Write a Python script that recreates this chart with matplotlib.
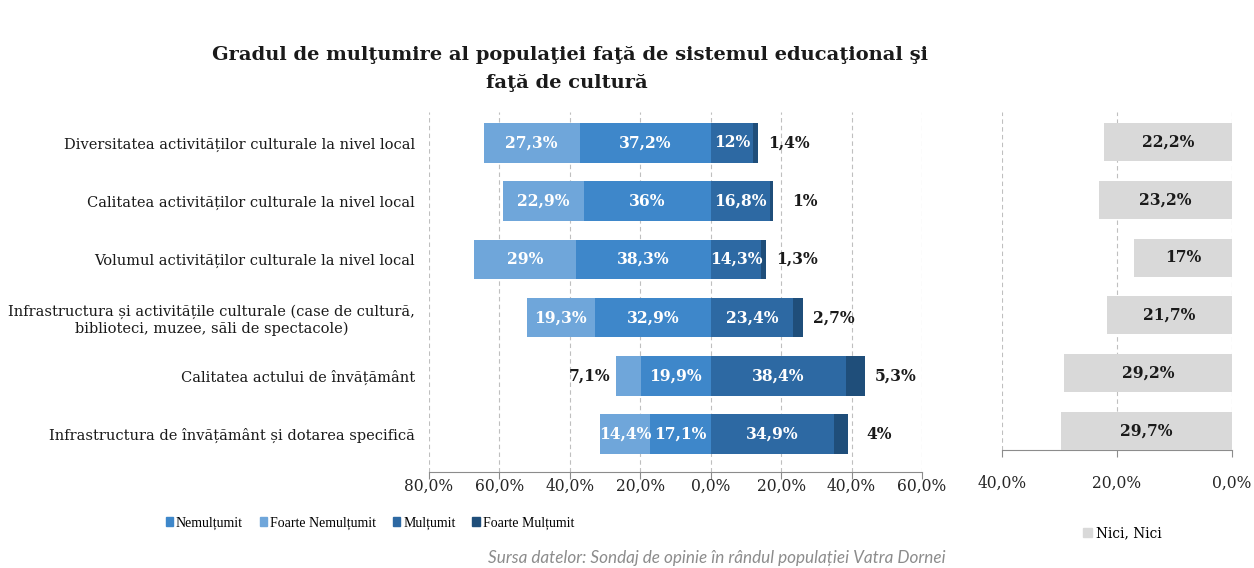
import matplotlib
matplotlib.use("Agg")
import matplotlib.pyplot as plt
from matplotlib.patches import Patch

categories = [
    "Diversitatea activităților culturale la nivel local",
    "Calitatea activităților culturale la nivel local",
    "Volumul activităților culturale la nivel local",
    "Infrastructura și activitățile culturale (case de cultură,\nbiblioteci, muzee, săli de spectacole)",
    "Calitatea actului de învățământ",
    "Infrastructura de învățământ și dotarea specifică",
]
foarte_nemultumit = [27.3, 22.9, 29.0, 19.3, 7.1, 14.4]
nemultumit = [37.2, 36.0, 38.3, 32.9, 19.9, 17.1]
multumit = [12.0, 16.8, 14.3, 23.4, 38.4, 34.9]
foarte_multumit = [1.4, 1.0, 1.3, 2.7, 5.3, 4.0]
nici_nici = [22.2, 23.2, 17.0, 21.7, 29.2, 29.7]

left_ticks = [-80, -60, -40, -20, 0, 20, 40, 60]
left_tick_labels = ["80,0%", "60,0%", "40,0%", "20,0%", "0,0%", "20,0%", "40,0%", "60,0%"]
right_ticks = [40, 20, 0]
right_tick_labels = ["40,0%", "20,0%", "0,0%"]

series_names = ["Nemulțumit", "Foarte Nemulțumit", "Mulțumit", "Foarte Mulțumit"]
c_fn = "#6FA6DA"
c_n = "#3E87CA"
c_m = "#2D69A3"
c_fm = "#1F4E7A"
c_nn = "#D9D9D9"

SERIF = "DejaVu Serif"
SANS = "Lato"


def fmt(v):
    return f"{v:g}".replace(".", ",") + "%"


W, H = 1254, 568
fig = plt.figure(figsize=(W / 100, H / 100), dpi=100)

ax = fig.add_axes([429 / W, (H - 472) / H, (922 - 429) / W, (472 - 112) / H])
ax2 = fig.add_axes([1002 / W, (H - 450) / H, (1232 - 1002) / W, (450 - 112) / H])

n = len(categories)
ys = [n - 1 - i for i in range(n)]
bh = 0.68

neg_n = [-v for v in nemultumit]
neg_fn = [-v for v in foarte_nemultumit]
ax.barh(ys, neg_n, left=0, height=bh, color=c_n, zorder=3, label=series_names[0])
ax.barh(ys, neg_fn, left=neg_n, height=bh, color=c_fn, zorder=3, label=series_names[1])
ax.barh(ys, multumit, left=0, height=bh, color=c_m, zorder=3, label=series_names[2])
ax.barh(ys, foarte_multumit, left=multumit, height=bh, color=c_fm, zorder=3, label=series_names[3])

px = 493 / 140.0  # pixels per unit on left axis
val_kw = dict(fontfamily=SERIF, fontweight="bold", fontsize=11.2, va="center", zorder=5)
for y, fn, nv, m, fm in zip(ys, foarte_nemultumit, nemultumit, multumit, foarte_multumit):
    ax.text(-nv / 2, y, fmt(nv), ha="center", color="white", **val_kw)
    if fn >= 10:
        ax.text(-nv - fn / 2, y, fmt(fn), ha="center", color="white", **val_kw)
    else:
        ax.text(-nv - fn - 26 / px, y, fmt(fn), ha="center", color="#1a1a1a", **val_kw)
    ax.text(m / 2, y, fmt(m), ha="center", color="white", **val_kw)
    ax.text(m + fm + 31 / px, y, fmt(fm), ha="center", color="#1a1a1a", **val_kw)

ax.set_xlim(-80, 60)
ax.set_ylim(-0.65, 5.53)
ax.set_xticks(left_ticks)
ax.set_xticklabels(left_tick_labels, fontfamily=SERIF, fontsize=11.2, color="#262626")
ax.set_yticks(ys)
ax.set_yticklabels(categories, fontfamily=SERIF, fontsize=10.5, color="#1a1a1a", multialignment="center")
ax.tick_params(axis="y", length=0, pad=10)
ax.tick_params(axis="x", length=5, color="#8C8C8C", pad=-1)
ax.grid(axis="x", color="#BFBFBF", linestyle=(0, (4, 3)), linewidth=0.8, zorder=0)
for s in ["top", "right", "left"]:
    ax.spines[s].set_visible(False)
ax.spines["bottom"].set_color("#8C8C8C")

# right panel
ax2.barh(ys, nici_nici, height=0.66, color=c_nn, zorder=3, label="Nici, Nici")
for y, v in zip(ys, nici_nici):
    ax2.text(v / 2, y, fmt(v), ha="center", color="#1a1a1a", **val_kw)
ax2.set_xlim(40, 0)
ax2.set_ylim(-0.33, 5.52)
ax2.set_xticks(right_ticks)
ax2.set_xticklabels(right_tick_labels, fontfamily=SERIF, fontsize=11.2, color="#262626")
ax2.set_yticks([])
ax2.tick_params(axis="x", length=5, color="#8C8C8C", pad=13)
ax2.grid(axis="x", color="#BFBFBF", linestyle=(0, (4, 3)), linewidth=0.8, zorder=0)
for s in ["top", "right", "left"]:
    ax2.spines[s].set_visible(False)
ax2.spines["bottom"].set_color("#8C8C8C")

# title
fig.text(570 / W, (H - 55) / H, "Gradul de mulţumire al populaţiei faţă de sistemul educaţional şi",
         ha="center", va="center", fontfamily=SERIF, fontweight="bold", fontsize=14, color="#1a1a1a")
fig.text(567 / W, (H - 83) / H, "faţă de cultură",
         ha="center", va="center", fontfamily=SERIF, fontweight="bold", fontsize=14, color="#1a1a1a")

# legends
handles = [Patch(color=c_n), Patch(color=c_fn), Patch(color=c_m), Patch(color=c_fm)]
fig.legend(handles, series_names, loc="center left", bbox_to_anchor=(160 / W, (H - 523) / H),
           ncol=4, frameon=False, prop={"family": "Liberation Serif", "size": 10},
           handlelength=0.55, handleheight=0.55, handletextpad=0.2, columnspacing=1.2, borderaxespad=0)
fig.legend([Patch(color=c_nn)], ["Nici, Nici"], loc="center left", bbox_to_anchor=(1078 / W, (H - 533) / H),
           frameon=False, prop={"family": SERIF, "size": 9.8},
           handlelength=0.6, handleheight=0.6, handletextpad=0.3, borderaxespad=0)

fig.text(946 / W, (H - 558) / H, "Sursa datelor: Sondaj de opinie în rândul populației Vatra Dornei",
         ha="right", va="center", fontfamily=SANS, style="italic", fontsize=12.3, color="#8C8C8C")

fig.savefig("out.png", dpi=100)
